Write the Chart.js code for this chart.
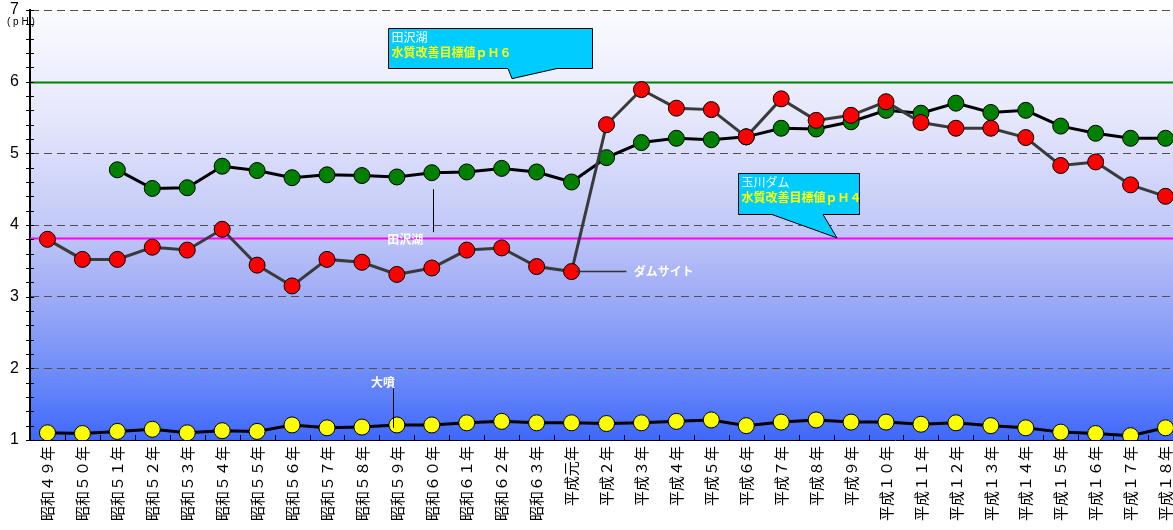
<!DOCTYPE html>
<html>
<head>
<meta charset="utf-8">
<script src="https://cdn.jsdelivr.net/npm/chart.js@4.4.0/dist/chart.umd.min.js"></script>
<style>
  html, body { margin: 0; padding: 0; background: #fff; overflow: hidden; }
  #wrap { width: 1173px; height: 530px; overflow: hidden; }
</style>
</head>
<body>
<div id="wrap"><canvas id="myChart" width="1183" height="530"></canvas></div>
<script>
// categories (fiscal years)
const years = ['昭和４９年','昭和５０年','昭和５１年','昭和５２年','昭和５３年','昭和５４年','昭和５５年',
  '昭和５６年','昭和５７年','昭和５８年','昭和５９年','昭和６０年','昭和６１年','昭和６２年','昭和６３年',
  '平成元年','平成２年','平成３年','平成４年','平成５年','平成６年','平成７年','平成８年','平成９年',
  '平成１０年','平成１１年','平成１２年','平成１３年','平成１４年','平成１５年','平成１６年','平成１７年','平成１８年'];

// pH values
const damSite = [3.80,3.52,3.52,3.69,3.65,3.94,3.44,3.15,3.52,3.48,3.31,3.40,3.65,3.68,3.42,
  3.35,5.40,5.89,5.63,5.61,5.23,5.76,5.46,5.53,5.72,5.43,5.35,5.35,5.22,4.83,4.88,4.56,4.40];
const tazawako = [null,null,4.77,4.51,4.52,4.82,4.76,4.66,4.70,4.69,4.67,4.73,4.74,4.79,4.74,
  4.60,4.94,5.15,5.21,5.19,5.23,5.35,5.34,5.44,5.60,5.56,5.70,5.57,5.60,5.38,5.28,5.21,5.21];
const ofuke = [1.10,1.09,1.12,1.15,1.10,1.13,1.12,1.21,1.17,1.18,1.21,1.21,1.24,1.26,1.24,
  1.24,1.23,1.24,1.26,1.28,1.20,1.25,1.28,1.25,1.25,1.22,1.24,1.20,1.17,1.11,1.09,1.06,1.17];

// target lines (田沢湖 pH6, 玉川ダム line)
const targetValues = [6, 3.82];
const targetColors = ['#008000', '#ff00ff'];

const yTicks = [1, 2, 3, 4, 5, 6, 7];

const jp = "'Noto Sans CJK JP', sans-serif";

const decor = {
  id: 'decor',
  beforeDraw(chart) {
    const { ctx, chartArea: a } = chart;
    const g = ctx.createLinearGradient(0, a.top, 0, a.bottom);
    g.addColorStop(0, '#fbfbff');
    g.addColorStop(0.25, '#e5e7fc');
    g.addColorStop(0.5, '#c3c9f8');
    g.addColorStop(0.67, '#9eabf6');
    g.addColorStop(0.83, '#728ff8');
    g.addColorStop(1, '#3f68fb');
    ctx.save();
    ctx.fillStyle = g;
    ctx.fillRect(a.left, a.top, a.right - a.left, a.bottom - a.top);
    ctx.restore();
  },
  beforeDatasetsDraw(chart) {
    const { ctx, chartArea: a, scales: { y } } = chart;
    ctx.save();
    targetValues.forEach((v, i) => {
      const py = Math.round(y.getPixelForValue(v)) + 0.5;
      ctx.strokeStyle = targetColors[i];
      ctx.lineWidth = 2;
      ctx.beginPath();
      ctx.moveTo(a.left, py);
      ctx.lineTo(a.right, py);
      ctx.stroke();
    });
    ctx.restore();
  },
  afterDatasetsDraw(chart) {
    const { ctx, chartArea: a, scales: { x, y } } = chart;
    const px = i => x.getPixelForValue(0) + i * (x.getPixelForValue(1) - x.getPixelForValue(0));
    const py = v => y.getPixelForValue(v);
    ctx.save();

    // ticks on axes
    ctx.strokeStyle = '#000';
    ctx.lineWidth = 1;
    ctx.beginPath();
    for (let v = 1; v <= 7.001; v += 0.2) {
      const yy = Math.round(py(v)) + 0.5;
      ctx.moveTo(a.left - 4, yy);
      ctx.lineTo(a.left + 4, yy);
    }
    for (let i = 0; i <= years.length; i++) {
      const xx = Math.round(px(i - 0.5)) + 0.5;
      ctx.moveTo(xx, a.bottom);
      ctx.lineTo(xx, a.bottom - 5);
    }
    ctx.stroke();

    // (pH)
    ctx.fillStyle = '#000';
    ctx.font = '10px "Liberation Sans"';
    ctx.textBaseline = 'middle';
    ctx.textAlign = 'left';
    ctx.fillText('( p H )', 7, a.top + 12);

    // leader lines
    ctx.strokeStyle = '#000';
    ctx.beginPath();
    ctx.moveTo(Math.round(px(11.02)) + 0.5, py(4.5));
    ctx.lineTo(Math.round(px(11.02)) + 0.5, py(3.9));
    ctx.moveTo(Math.round(px(9.89)) + 0.5, py(1.72));
    ctx.lineTo(Math.round(px(9.89)) + 0.5, py(1.17));
    ctx.stroke();
    ctx.strokeStyle = '#333';
    ctx.lineWidth = 1.5;
    ctx.beginPath();
    ctx.moveTo(px(15.14), py(3.35));
    ctx.lineTo(px(16.57), py(3.35));
    ctx.stroke();

    // white labels
    ctx.fillStyle = '#fff';
    ctx.font = 'bold 12px ' + jp;
    ctx.textAlign = 'center';
    ctx.fillText('田沢湖', px(10.24), py(3.8));
    ctx.fillText('大噴', px(9.6), py(1.8));
    ctx.textAlign = 'left';
    ctx.fillText('ダムサイト', px(16.78), py(3.35));

    // callouts
    const callout = (l, r, t, b, b1, b2, tipX, tipY, line1, line2) => {
      ctx.beginPath();
      ctx.moveTo(l, t);
      ctx.lineTo(r, t);
      ctx.lineTo(r, b);
      ctx.lineTo(b2, b);
      ctx.lineTo(tipX, tipY);
      ctx.lineTo(b1, b);
      ctx.lineTo(l, b);
      ctx.closePath();
      ctx.fillStyle = '#00ccff';
      ctx.fill();
      ctx.strokeStyle = '#000';
      ctx.lineWidth = 1;
      ctx.stroke();
      ctx.textAlign = 'left';
      ctx.textBaseline = 'middle';
      ctx.fillStyle = '#fff';
      ctx.font = '12px ' + jp;
      ctx.fillText(line1, l + 3, t + 9);
      ctx.fillStyle = '#ffff00';
      ctx.font = 'bold 12px ' + jp;
      ctx.fillText(line2, l + 3, t + 24);
    };
    callout(388.5, 592.5, 28.5, 68.5, 508, 557, 512, py(6) - 3,
      '田沢湖', '水質改善目標値ｐＨ６');
    callout(738.5, 859.5, 173.5, 214.5, 772, 823, 837, py(3.82),
      '玉川ダム', '水質改善目標値ｐＨ４');

    ctx.restore();
  }
};

const pointStyle = (fill) => ({
  pointRadius: 8,
  pointHoverRadius: 8,
  pointBackgroundColor: fill,
  pointBorderColor: '#000',
  pointBorderWidth: 1,
  borderWidth: 3,
  tension: 0,
  fill: false
});

const ctx = document.getElementById('myChart').getContext('2d');
const myChart = new Chart(ctx, {
  type: 'line',
  data: {
    labels: years,
    datasets: [
      Object.assign({ label: 'ダムサイト', data: damSite, borderColor: '#3a3a3a' }, pointStyle('#ff0000')),
      Object.assign({ label: '田沢湖', data: tazawako, borderColor: '#000' }, pointStyle('#008000')),
      Object.assign({ label: '大噴', data: ofuke, borderColor: '#000' }, pointStyle('#ffff00'))
    ]
  },
  options: {
    responsive: false,
    animation: false,
    devicePixelRatio: 1,
    events: [],
    layout: { padding: 0, autoPadding: false },
    plugins: { legend: { display: false }, tooltip: { enabled: false } },
    scales: {
      x: {
        offset: true,
        grid: { display: false, drawTicks: false },
        border: { display: true, color: '#000', width: 1 },
        ticks: {
          autoSkip: false, maxRotation: 90, minRotation: 90, padding: 6,
          color: '#000', font: { family: jp, size: 15 }
        },
        afterFit(s) { s.height = 90; s.paddingRight = 0; s.paddingLeft = 0; }
      },
      y: {
        min: 1, max: 7,
        afterBuildTicks(s) { s.ticks = yTicks.map(v => ({ value: v })); },
        ticks: {
          padding: 11, color: '#000',
          font: { family: '"Liberation Sans"', size: 16 }
        },
        grid: {
          drawTicks: false,
          lineWidth: 1,
          color: c => (c.tick && c.tick.value > 1 && c.tick.value !== 6) ? '#505050' : 'rgba(0,0,0,0)'
        },
        border: { display: true, color: '#000', width: 2, dash: [8, 5] },
        afterFit(s) { s.width = 30; s.paddingTop = 10; s.paddingBottom = 0; }
      }
    }
  },
  plugins: [decor]
});
</script>
</body>
</html>
